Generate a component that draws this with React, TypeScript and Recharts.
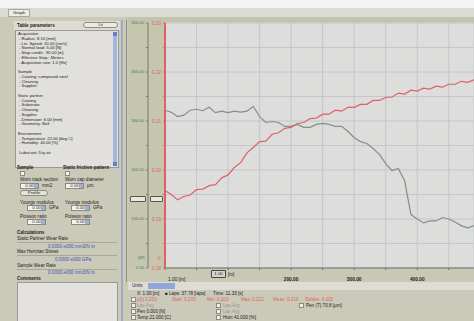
import React from "react";
import { CartesianGrid, Line, LineChart, XAxis, YAxis } from "recharts";

// distance along the track [m]
const distance = [
  0, 10, 20, 30, 40, 50, 60, 70, 80, 90, 100, 110, 120, 130, 140, 150, 160, 170, 180, 190,
  200, 210, 220, 230, 240, 250, 260, 270, 280, 290, 300, 310, 320, 330, 340, 350, 360, 370, 380, 390,
  400, 410, 420, 430, 440, 450, 460, 470, 480, 490
];

// penetration depth [um] (grey trace, left green axis)
const depth = [
  322, 318, 309, 312, 322, 324, 321, 328, 317, 320, 317, 320, 318, 320, 330, 309, 297, 299, 297, 289,
  289, 293, 287, 287, 293, 295, 293, 289, 289, 279, 266, 258, 254, 244, 232, 213, 199, 203, 178, 109,
  100, 92, 96, 96, 103, 100, 94, 86, 82, 86
];

// friction coefficient (red trace, red axis)
const friction = [
  0.1958, 0.195, 0.1939, 0.1946, 0.1949, 0.196, 0.1961, 0.1968, 0.197, 0.1984, 0.199, 0.2005, 0.2015, 0.2035, 0.2046, 0.2058, 0.2059, 0.2073, 0.2076, 0.2085,
  0.2087, 0.2095, 0.2097, 0.2105, 0.2106, 0.2114, 0.2114, 0.2122, 0.212, 0.2128, 0.2128, 0.2134, 0.2134, 0.2142, 0.2142, 0.2148, 0.2149, 0.2157, 0.2155, 0.2163,
  0.2161, 0.2167, 0.2165, 0.2171, 0.2169, 0.2175, 0.2175, 0.2181, 0.2179, 0.2184
];

const rows = distance.map((d, i) => ({ d, depth: depth[i], mu: friction[i] }));

const xTicks = [0, 50, 100, 150, 200, 250, 300, 350, 400, 450];
const muTicks = [0.18, 0.185, 0.19, 0.195, 0.2, 0.205, 0.21, 0.215, 0.22, 0.225, 0.23];
const depthTicks = [0, 50, 100, 150, 200, 250, 300, 350, 400, 450, 500];

const parameterLines = [
  ["Acquisition", true],
  ["- Radius:  8.10 [mm]", false],
  ["- Lin. Speed:  10.00 [cm/s]", false],
  ["- Normal load:  5.00 [N]", false],
  ["- Stop condit.:  90.00 [m]", false],
  ["- Effective Stop.:  Meters", false],
  ["- Acquisition rate:  1.0 [Hz]", false],
  ["", false],
  ["Sample", true],
  ["- Coating:  compound steel", false],
  ["- Cleaning", false],
  ["- Supplier", false],
  ["", false],
  ["Static partner", true],
  ["- Coating", false],
  ["- Substrate", false],
  ["- Cleaning", false],
  ["- Supplier", false],
  ["- Dimension:  6.00 [mm]", false],
  ["- Geometry:  Ball", false],
  ["", false],
  ["Environment", true],
  ["- Temperature:  22.00 [deg C]", false],
  ["- Humidity:  40.00 [%]", false],
  ["", false],
  ["Lubricant:  Dry air", false]
] as [string, boolean][];

const appBg = "#cbc9b8";
const stripBg = "#c6c5ae";
const plotBg = "#dddddb";
const gridColor = "#c2c6cd";
const redColor = "#e0606a";
const greyColor = "#82918a";
const blueText = "#3a55b0";

function T({ x, y, children, color = "#222", bold = false, size = 4.6 }: any) {
  return (
    <div
      style={{
        position: "absolute",
        left: x,
        top: y,
        fontSize: size,
        lineHeight: 1,
        color,
        fontWeight: bold ? 700 : 400,
        whiteSpace: "nowrap"
      }}
    >
      {children}
    </div>
  );
}

function Box({ x, y, w, h, bg = "#eeeeea", border = "#8a8a80", radius = 0, children }: any) {
  return (
    <div
      style={{
        position: "absolute",
        left: x,
        top: y,
        width: w,
        height: h,
        background: bg,
        border: `1px solid ${border}`,
        borderRadius: radius,
        boxSizing: "border-box",
        fontSize: 4.4,
        lineHeight: `${h - 2}px`,
        textAlign: "center",
        color: "#222",
        overflow: "hidden"
      }}
    >
      {children}
    </div>
  );
}

function Spin({ x, y, value, unit }: any) {
  return (
    <>
      <Box x={x} y={y} w={19} h={6} bg="#f2f2ee">
        {value}
      </Box>
      <div style={{ position: "absolute", left: x + 14, top: y + 1, width: 4, height: 4, background: "#9fb0d8" }} />
      <T x={x + 22} y={y + 1}>{unit}</T>
    </>
  );
}

function XTick(props: any) {
  const { x, y, payload } = props;
  const v = payload.value;
  if (v === 0) {
    return (
      <text x={x + 3} y={y + 9} fontSize={4.8} fill="#222" textAnchor="start">
        1.00 [m]
      </text>
    );
  }
  if (v % 100 !== 0 || v === 100) return <g />;
  return (
    <text x={x} y={y + 9} fontSize={4.8} fill="#222" fontWeight={700} textAnchor="middle">
      {v.toFixed(2)}
    </text>
  );
}

function LeftPanel() {
  return (
    <>
      {/* header row */}
      <div style={{ position: "absolute", left: 14, top: 21, width: 106, height: 9, background: "#dedcd2" }} />
      <T x={17} y={24} bold>Table parameters</T>
      <Box x={83} y={22} w={35} h={6} bg="#ecece6" radius={3}>Lit</Box>
      {/* parameter list */}
      <div
        style={{
          position: "absolute",
          left: 15,
          top: 30,
          width: 104,
          height: 138,
          background: "#e1e0dc",
          border: "1px solid #9a9a90",
          boxSizing: "border-box"
        }}
      />
      {parameterLines.map(([s, head], i) => (
        <T key={i} x={head ? 18 : 19} y={32 + i * 4.75} size={4.2}>
          {s}
        </T>
      ))}
      <div style={{ position: "absolute", left: 113, top: 32, width: 4, height: 134, background: "#a5b6dc" }} />
      <div style={{ position: "absolute", left: 113, top: 32, width: 4, height: 4, background: "#5f7fc6" }} />
      <div style={{ position: "absolute", left: 113, top: 162, width: 4, height: 4, background: "#5f7fc6" }} />

      {/* sample / static partner */}
      <T x={17} y={166} bold>Sample</T>
      <T x={63} y={166} bold>Static friction pattern</T>
      <Box x={20} y={171} w={5} h={5} bg="#f4f4f0" />
      <Box x={65} y={171} w={5} h={5} bg="#f4f4f0" />
      <T x={20} y={178}>Worn track section</T>
      <T x={65} y={178}>Worn cap diameter</T>
      <Spin x={20} y={183} value="0.00" unit="mm2" />
      <Spin x={65} y={183} value="0.00" unit="µm" />
      <Box x={20} y={190} w={28} h={6} bg="#e4e4de" radius={3}>Profile</Box>
      <T x={20} y={201}>Youngs modulus</T>
      <T x={65} y={201}>Youngs modulus</T>
      <Spin x={27} y={205} value="0.00" unit="GPa" />
      <Spin x={71} y={205} value="0.00" unit="GPa" />
      <T x={20} y={215}>Poisson ratio</T>
      <T x={65} y={215}>Poisson ratio</T>
      <Spin x={27} y={219} value="0.00" unit="" />
      <Spin x={71} y={219} value="0.00" unit="" />

      {/* calculations */}
      <T x={17} y={231} bold>Calculations</T>
      <T x={17} y={237}>Static Partner Wear Rate</T>
      <div style={{ position: "absolute", left: 17, top: 242, width: 100, height: 1, background: "#a9a79a" }} />
      <T x={48} y={245} color={blueText}>0.0000 e000 mm3/N m</T>
      <T x={17} y={250}>Max Hertzian Stress</T>
      <div style={{ position: "absolute", left: 17, top: 255, width: 100, height: 1, background: "#a9a79a" }} />
      <T x={55} y={258} color={blueText}>0.0000 e000 GPa</T>
      <T x={17} y={264}>Sample Wear Rate</T>
      <div style={{ position: "absolute", left: 17, top: 269, width: 100, height: 1, background: "#a9a79a" }} />
      <T x={48} y={271} color={blueText}>0.0000 e000 mm3/N m</T>

      <T x={17} y={277} bold>Comments</T>
      <div
        style={{
          position: "absolute",
          left: 17,
          top: 282,
          width: 101,
          height: 42,
          background: "#e3e2de",
          border: "1px solid #9a9a90",
          boxSizing: "border-box"
        }}
      />
    </>
  );
}

function BottomPanel() {
  const cb = (x: number, y: number) => <Box x={x} y={y} w={5} h={5} bg="#f0f0ec" />;
  return (
    <>
      <div style={{ position: "absolute", left: 128, top: 282, width: 346, height: 8, background: "#dedcd4" }} />
      <T x={132} y={284}>Units</T>
      <div style={{ position: "absolute", left: 148, top: 283, width: 27, height: 6, background: "#8fa6dc" }} />
      <T x={137} y={292}>X: 1.00 [m]</T>
      <T x={165} y={292}>■ Laps: 37.78 [laps]</T>
      <T x={213} y={292}>Time: 11.33 [s]</T>
      {cb(131, 297)}
      <T x={137} y={298} color={redColor}>µ(t) 0.203</T>
      <T x={172} y={298} color={redColor}>Start: 0.203</T>
      <T x={207} y={298} color={redColor}>Min: 0.203</T>
      <T x={241} y={298} color={redColor}>Max: 0.212</T>
      <T x={273} y={298} color={redColor}>Mean: 0.210</T>
      <T x={305} y={298} color={redColor}>Stddev: 0.002</T>
      {cb(131, 303)}
      <T x={137} y={304} color="#999">Lap Avg</T>
      {cb(216, 303)}
      <T x={223} y={304} color="#999">Lap Avg</T>
      {cb(299, 303)}
      <T x={306} y={304}>Pen (T) 70.8 [µm]</T>
      {cb(131, 309)}
      <T x={137} y={310}>Pen 0.000 [N]</T>
      {cb(216, 309)}
      <T x={223} y={310} color="#999">Lap Avg</T>
      {cb(131, 315)}
      <T x={137} y={316}>Temp 21.000 [C]</T>
      {cb(216, 315)}
      <T x={223} y={316}>Hum 41.000 [%]</T>
    </>
  );
}

export default function App() {
  return (
    <div
      style={{
        position: "fixed",
        left: 0,
        top: 0,
        width: 474,
        height: 321,
        overflow: "hidden",
        background: appBg,
        fontFamily: "'Liberation Sans', Arial, sans-serif"
      }}
    >
      <div style={{ position: "absolute", left: 0, top: 0, width: 474, height: 8, background: "#f4f4f2" }} />
      <div style={{ position: "absolute", left: 0, top: 8, width: 474, height: 9, background: "#dcdbd3" }} />
      <Box x={8} y={9} w={22} h={8} bg="#ecebe4" border="#a8a79c">Graph</Box>
      <div style={{ position: "absolute", left: 128, top: 17, width: 346, height: 5, background: "#c4c3b0" }} />

      <LeftPanel />

      {/* splitter */}
      <div style={{ position: "absolute", left: 121, top: 20, width: 2, height: 301, background: "#9eaac8" }} />
      <div style={{ position: "absolute", left: 126, top: 20, width: 1, height: 262, background: "#8f8e84" }} />

      {/* axis strips */}
      <div style={{ position: "absolute", left: 128, top: 22, width: 37, height: 246, background: stripBg }} />
      <div style={{ position: "absolute", left: 128, top: 268, width: 346, height: 14, background: "#c9c8b3" }} />

      <div style={{ position: "absolute", left: 128, top: 18 }}>
        <LineChart width={346} height={264} data={rows} margin={{ top: 5, right: 0, bottom: 0, left: 0 }}>
          <CartesianGrid
            yAxisId="a_mu"
            fill={plotBg}
            stroke={gridColor}
            strokeWidth={1}
            fillOpacity={1}
          />
          <XAxis
            dataKey="d"
            type="number"
            domain={[0, 490]}
            ticks={xTicks}
            interval={0}
            height={14}
            axisLine={{ stroke: "#6f6f66" }}
            tickLine={{ stroke: "#6f6f66" }}
            tickSize={2}
            tick={<XTick />}
          />
          <YAxis
            yAxisId="a_mu"
            domain={[0.18, 0.23]}
            ticks={muTicks}
            interval={0}
            width={17}
            axisLine={{ stroke: redColor, strokeWidth: 2 }}
            tickLine={{ stroke: redColor }}
            tickSize={2}
            tick={{ fontSize: 4.6, fill: redColor }}
            tickFormatter={(v: number) => (Math.round(v * 1000) % 10 === 0 ? v.toFixed(2) : "")}
          />
          <YAxis
            yAxisId="b_depth"
            domain={[0, 500]}
            ticks={depthTicks}
            interval={0}
            width={20}
            axisLine={{ stroke: "#7a7a70" }}
            tickLine={{ stroke: "#7a7a70" }}
            tickSize={2}
            tick={{ fontSize: 4.2, fill: "#3f7f50" }}
            tickFormatter={(v: number) => (v % 100 === 0 ? v.toFixed(2) : "")}
          />
          <Line
            yAxisId="b_depth"
            dataKey="depth"
            stroke={greyColor}
            strokeWidth={1.2}
            dot={false}
            isAnimationActive={false}
          />
          <Line
            yAxisId="a_mu"
            dataKey="mu"
            stroke={redColor}
            strokeWidth={1.2}
            dot={false}
            isAnimationActive={false}
          />
        </LineChart>
      </div>

      {/* spin boxes on the axes and x slider */}
      <Box x={130} y={196} w={16} h={6} bg="#e8e8e2" border="#555" radius={1} />
      <Box x={150} y={196} w={13} h={6} bg="#e8e8e2" border="#555" radius={1} />
      <T x={138} y={256} color="#3f7f50">µm</T>
      <T x={158} y={256} color={redColor}>µ</T>
      <Box x={211} y={270} w={15} h={8} bg="#d8d7cc" border="#444" radius={1}>1.00</Box>
      <T x={228} y={273}>[m]</T>

      <BottomPanel />
    </div>
  );
}
